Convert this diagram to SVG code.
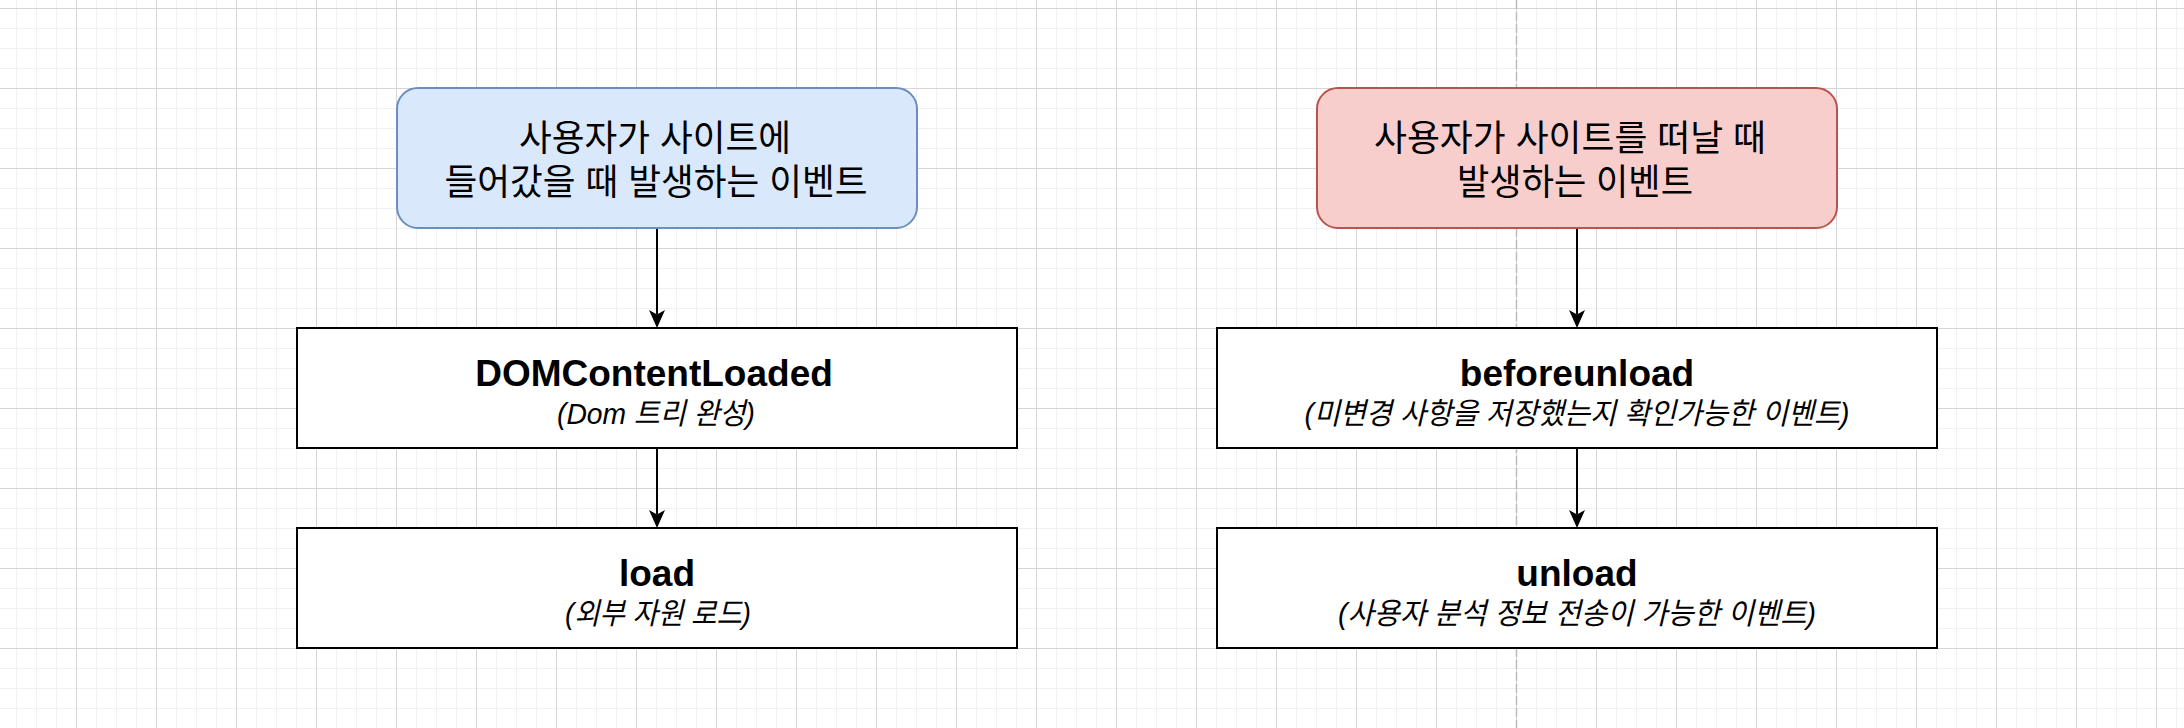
<svg xmlns="http://www.w3.org/2000/svg" width="2184" height="728" viewBox="0 0 2184 728">
  <style>
    .box { fill: #ffffff; stroke: #000000; stroke-width: 2; }
    .blue { fill: #dae8fc; stroke: #6c8ebf; stroke-width: 2; }
    .red { fill: #f8cecc; stroke: #b85450; stroke-width: 2; }
    .head { font-family: "Liberation Sans", "Noto Sans CJK KR", sans-serif; font-size: 36px; fill: #000000; text-anchor: middle; }
    .title { font-family: "Liberation Sans", "Noto Sans CJK KR", sans-serif; font-size: 37px; font-weight: bold; fill: #000000; text-anchor: middle; }
    .sub { font-family: "Liberation Sans", "Noto Sans CJK KR", sans-serif; font-size: 30px; font-style: italic; fill: #000000; text-anchor: middle; }
    .edge { fill: none; stroke: #000000; stroke-width: 2; }
  </style>
  <defs>
    <pattern id="grid" patternUnits="userSpaceOnUse" x="76" y="8" width="80" height="80">
      <path d="M20.5 0V80M40.5 0V80M60.5 0V80M0 20.5H80M0 40.5H80M0 60.5H80" stroke="#f0f0f0" stroke-width="1" fill="none"/>
      <path d="M0.5 0V80M0 0.5H80" stroke="#d6d6d6" stroke-width="1" fill="none"/>
    </pattern>
    <marker id="arrow" markerUnits="userSpaceOnUse" viewBox="0 0 18 16" markerWidth="18" markerHeight="16" refX="4.5" refY="8" orient="auto">
      <path d="M0 0L18 8L0 16L4.5 8Z" fill="#000000"/>
    </marker>
  </defs>

  <g id="background">
    <rect x="0" y="0" width="2184" height="728" fill="#ffffff"/>
    <rect x="0" y="0" width="2184" height="728" fill="url(#grid)"/>
    <line x1="1516.5" y1="0" x2="1516.5" y2="728" stroke="#bdbdbd" stroke-width="1.5" stroke-dasharray="9 3"/>
  </g>

  <g id="connectors">
    <line class="edge" x1="657" y1="229" x2="657" y2="314.5" marker-end="url(#arrow)"/>
    <line class="edge" x1="657" y1="449" x2="657" y2="514.5" marker-end="url(#arrow)"/>
    <line class="edge" x1="1577" y1="229" x2="1577" y2="314.5" marker-end="url(#arrow)"/>
    <line class="edge" x1="1577" y1="449" x2="1577" y2="514.5" marker-end="url(#arrow)"/>
  </g>

  <g id="node-enter">
    <rect class="blue" x="397" y="88" width="520" height="140" rx="21" ry="21"/>
    <text class="head" x="655" y="151" textLength="272" lengthAdjust="spacingAndGlyphs">사용자가 사이트에</text>
    <text class="head" x="656" y="195" textLength="423" lengthAdjust="spacingAndGlyphs">들어갔을 때 발생하는 이벤트</text>
  </g>

  <g id="node-leave">
    <rect class="red" x="1317" y="88" width="520" height="140" rx="21" ry="21"/>
    <text class="head" x="1570" y="151" textLength="392" lengthAdjust="spacingAndGlyphs">사용자가 사이트를 떠날 때</text>
    <text class="head" x="1575" y="195" textLength="236" lengthAdjust="spacingAndGlyphs">발생하는 이벤트</text>
  </g>

  <g id="node-domcontentloaded">
    <rect class="box" x="297" y="328" width="720" height="120"/>
    <text class="title" x="654" y="386">DOMContentLoaded</text>
    <text class="sub" x="656" y="424" textLength="198" lengthAdjust="spacingAndGlyphs">(Dom 트리 완성)</text>
  </g>

  <g id="node-load">
    <rect class="box" x="297" y="528" width="720" height="120"/>
    <text class="title" x="657" y="586">load</text>
    <text class="sub" x="658" y="624" textLength="186" lengthAdjust="spacingAndGlyphs">(외부 자원 로드)</text>
  </g>

  <g id="node-beforeunload">
    <rect class="box" x="1217" y="328" width="720" height="120"/>
    <text class="title" x="1577" y="386">beforeunload</text>
    <text class="sub" x="1577" y="424" textLength="545" lengthAdjust="spacingAndGlyphs">(미변경 사항을 저장했는지 확인가능한 이벤트)</text>
  </g>

  <g id="node-unload">
    <rect class="box" x="1217" y="528" width="720" height="120"/>
    <text class="title" x="1577" y="586">unload</text>
    <text class="sub" x="1577" y="624" textLength="478" lengthAdjust="spacingAndGlyphs">(사용자 분석 정보 전송이 가능한 이벤트)</text>
  </g>
</svg>
